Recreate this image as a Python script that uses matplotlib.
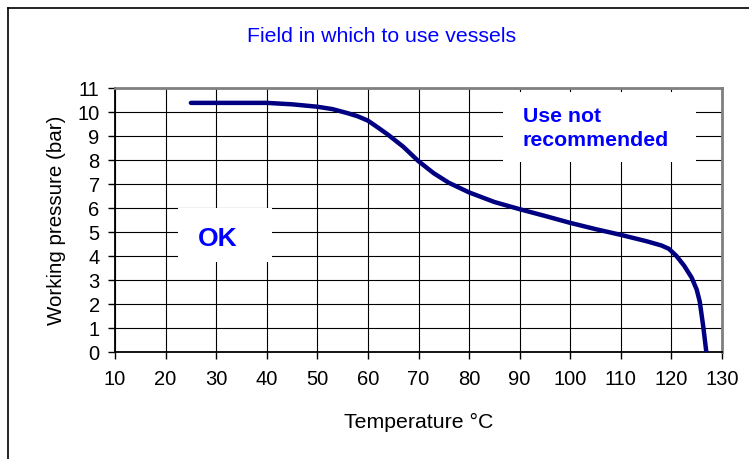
import matplotlib
matplotlib.use("Agg")
import matplotlib.pyplot as plt
from matplotlib.patches import Rectangle
from matplotlib.lines import Line2D

plt.rcParams['font.family'] = ['Liberation Sans', 'DejaVu Sans']

temperature = [25, 30, 40, 45, 50, 53, 56, 58, 60, 62, 64, 67, 70, 73, 76, 80, 85, 90, 95, 100, 105, 110, 115, 118, 119.5, 121, 122.5, 124, 125, 125.6, 126.3, 126.9]
pressure = [10.38, 10.38, 10.38, 10.32, 10.22, 10.12, 9.95, 9.82, 9.64, 9.35, 9.05, 8.55, 7.95, 7.45, 7.05, 6.65, 6.25, 5.95, 5.67, 5.38, 5.12, 4.88, 4.62, 4.44, 4.3, 4.0, 3.6, 3.1, 2.6, 2.1, 1.05, 0.0]

xticks = list(range(10, 131, 10))
yticks = list(range(0, 12))

BLUE = '#0000FF'
NAVY = '#000080'

W, H = 749, 459
fig = plt.figure(figsize=(W/100, H/100), dpi=100)
ax = fig.add_axes([115/W, 1-352/H, (722-115)/W, (352-88)/H])

ax.set_xlim(10, 130)
ax.set_ylim(0, 11)
ax.set_xticks(xticks)
ax.set_yticks(yticks)
ax.set_axisbelow(True)
ax.grid(True, color='black', linewidth=0.8)

ax.plot(temperature, pressure, color=NAVY, linewidth=3.2, solid_capstyle='round',
        solid_joinstyle='round', zorder=3)

# white label boxes covering the grid
ax.add_patch(Rectangle((22.5, 3.75), 18.5, 2.25, facecolor='white', edgecolor='none', zorder=1))
ax.add_patch(Rectangle((86.7, 7.9), 38.1, 2.93, facecolor='white', edgecolor='none', zorder=1))

ax.text(30.3, 4.42, 'OK', color=BLUE, fontsize=19, fontweight='bold', ha='center', va='baseline', zorder=4)
ax.text(90.6, 9.58, 'Use not', color=BLUE, fontsize=15.3, fontweight='bold',
        ha='left', va='baseline', zorder=4)
ax.text(90.6, 8.6, 'recommended', color=BLUE, fontsize=15.3, fontweight='bold',
        ha='left', va='baseline', zorder=4)

for s in ['top', 'right']:
    ax.spines[s].set_color('#808080')
    ax.spines[s].set_linewidth(2)
for s in ['left', 'bottom']:
    ax.spines[s].set_color('black')
    ax.spines[s].set_linewidth(1.3)

ax.tick_params(axis='both', direction='out', length=5, width=1, color='black', labelsize=14.5)
ax.tick_params(axis='x', pad=8)
ax.tick_params(axis='y', pad=6)

ax.set_xlabel('Temperature °C', fontsize=15.3, labelpad=17)
ax.set_ylabel('Working pressure (bar)', fontsize=14.8, labelpad=8)

fig.text(382/W, 1-42.3/H, 'Field in which to use vessels', color=BLUE, fontsize=15.3,
         ha='center', va='baseline')

# page frame lines
fig.add_artist(Line2D([8/W, 1], [1-8/H, 1-8/H], color='black', linewidth=1.2, transform=fig.transFigure))
fig.add_artist(Line2D([8/W, 8/W], [0, 1-8/H], color='black', linewidth=1.2, transform=fig.transFigure))

fig.savefig('out.png', dpi=100)
